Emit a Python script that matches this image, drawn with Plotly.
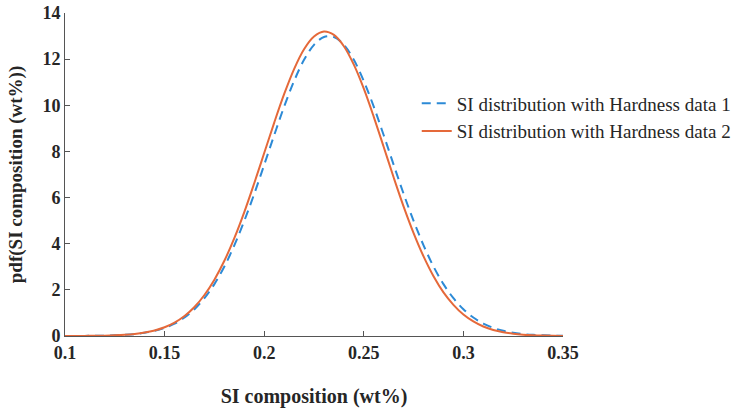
import plotly.graph_objects as go

x_vals = [0.100, 0.105, 0.110, 0.115, 0.120, 0.125, 0.130, 0.135, 0.140, 0.145,
          0.150, 0.155, 0.160, 0.165, 0.170, 0.175, 0.180, 0.185, 0.190, 0.195,
          0.200, 0.205, 0.210, 0.215, 0.220, 0.225, 0.230, 0.235, 0.240, 0.245,
          0.250, 0.255, 0.260, 0.265, 0.270, 0.275, 0.280, 0.285, 0.290, 0.295,
          0.300, 0.305, 0.310, 0.315, 0.320, 0.325, 0.330, 0.335, 0.340, 0.345,
          0.350]

pdf_data1 = [0.001, 0.002, 0.005, 0.009, 0.016, 0.028, 0.049, 0.084, 0.139, 0.224,
             0.351, 0.537, 0.80, 1.16, 1.64, 2.25, 3.01, 3.93, 4.99, 6.16,
             7.42, 8.70, 9.94, 11.05, 11.97, 12.62, 12.96, 12.96, 12.62, 11.97,
             11.05, 9.94, 8.70, 7.42, 6.16, 4.99, 3.93, 3.01, 2.25, 1.64,
             1.16, 0.80, 0.537, 0.351, 0.224, 0.139, 0.084, 0.049, 0.028, 0.016,
             0.009]

pdf_data2 = [0.001, 0.002, 0.005, 0.009, 0.016, 0.030, 0.052, 0.089, 0.148, 0.240,
             0.378, 0.580, 0.865, 1.256, 1.776, 2.44, 3.26, 4.24, 5.37, 6.62,
             7.93, 9.24, 10.48, 11.57, 12.43, 12.98, 13.20, 13.05, 12.56, 11.76,
             10.72, 9.50, 8.19, 6.87, 5.61, 4.46, 3.45, 2.59, 1.89, 1.35,
             0.93, 0.63, 0.41, 0.26, 0.163, 0.099, 0.058, 0.033, 0.018, 0.010,
             0.005]

names = ["SI distribution with Hardness data 1", "SI distribution with Hardness data 2"]
x_ticks = [0.1, 0.15, 0.2, 0.25, 0.3, 0.35]
x_tick_text = ["0.1", "0.15", "0.2", "0.25", "0.3", "0.35"]
y_ticks = [0, 2, 4, 6, 8, 10, 12, 14]

serif = "Liberation Serif, Times New Roman, serif"
txt = "#262626"

fig = go.Figure()
fig.add_trace(go.Scatter(x=x_vals, y=pdf_data1, mode="lines", name=names[0],
                         line=dict(color="#2c8ad6", width=2, dash="9px,6px", shape="spline")))
fig.add_trace(go.Scatter(x=x_vals, y=pdf_data2, mode="lines", name=names[1],
                         line=dict(color="#e5693a", width=2, shape="spline")))

fig.update_layout(
    width=735, height=412,
    margin=dict(l=65, r=172, t=13, b=76, autoexpand=False),
    paper_bgcolor="white", plot_bgcolor="white",
    showlegend=True,
    legend=dict(x=0.567, y=0.795, xanchor="left", yanchor="top", xref="container", yref="container",
                font=dict(family=serif, size=19, color=txt),
                bgcolor="rgba(0,0,0,0)", tracegroupgap=0, itemwidth=30),
    font=dict(family=serif, color=txt),
)
fig.update_xaxes(range=[0.1, 0.35], tickvals=x_ticks, ticktext=x_tick_text, automargin=False,
                 showgrid=False, zeroline=False, showline=True, linecolor="#555555", linewidth=1,
                 ticks="inside", ticklen=5, tickcolor="#555555",
                 tickfont=dict(family=serif, size=18, color=txt, weight="bold"),
                 title=dict(text="<b>SI composition (wt%)</b>", font=dict(family=serif, size=20, color=txt),
                            standoff=27))
fig.update_yaxes(range=[0, 14], tickvals=y_ticks, automargin=False,
                 showgrid=False, zeroline=False, showline=True, linecolor="#555555", linewidth=1,
                 ticks="inside", ticklen=5, tickcolor="#555555",
                 tickfont=dict(family=serif, size=18, color=txt, weight="bold"),
                 title=dict(text="<b>pdf(SI composition (wt%))</b>", font=dict(family=serif, size=19, color=txt),
                            standoff=14))

fig.write_html("out.html", config={"displayModeBar": False},
               post_script="document.body.style.margin='0';document.body.style.overflow='hidden';")
